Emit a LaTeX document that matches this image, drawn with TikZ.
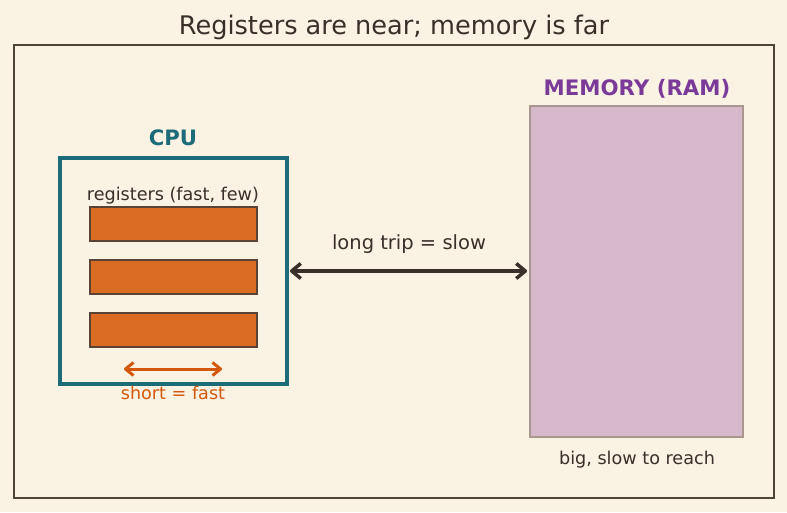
\documentclass[tikz,border=0pt]{standalone}
\usepackage{fontspec}
\setmainfont{DejaVu Sans}
\usetikzlibrary{arrows.meta}
\definecolor{bg}{HTML}{FAF2E3}
\definecolor{ink}{HTML}{3A2F29}
\definecolor{frame}{HTML}{4F4438}
\definecolor{teal}{HTML}{1B6B78}
\definecolor{regfill}{HTML}{D96B22}
\definecolor{regdraw}{HTML}{5A4334}
\definecolor{orng}{HTML}{D4580C}
\definecolor{memfill}{HTML}{D5B9CB}
\definecolor{memdraw}{HTML}{A8968F}
\definecolor{purp}{HTML}{7B3A98}
\tikzset{
  reg/.style={draw=regdraw, fill=regfill, line width=1.5pt},
  lbl/.style={text=ink, font=\fontsize{17.6}{20}\selectfont, inner sep=0pt},
}
\begin{document}
\begin{tikzpicture}[x=1pt,y=-1pt]
\fill[bg] (0,0) rectangle (787,512);
\useasboundingbox (0,0) rectangle (787,512);
\node[text=ink, font=\fontsize{25.6}{28}\selectfont, inner sep=0pt] (title) at (394,27.5) {Registers are near; memory is far};
\draw[frame, line width=1.3pt] (14,45) rectangle (774,498);
% CPU
\draw[teal, line width=3.5pt] (60,158) rectangle (287,384);
\coordinate (cpuR) at (287,271);
\node[text=teal, font=\bfseries\fontsize{21.2}{24}\selectfont, inner sep=0pt] (cpu) at (173,138) {CPU};
\node[lbl] (reglbl) at (173,195.5) {registers (fast, few)};
\draw[reg] (90,207) rectangle (257,241);
\draw[reg] (90,260) rectangle (257,294);
\draw[reg] (90,313) rectangle (257,347);
\coordinate (sa) at (124,369);
\coordinate (sb) at (222,369);
\draw[orng, line width=3pt, line join=round, {Straight Barb[length=8pt,width=13pt,line join=round]}-{Straight Barb[length=8pt,width=13pt,line join=round]}] (sa) -- (sb);
\node[text=orng, font=\fontsize{17.6}{20}\selectfont, inner sep=0pt] (short) at (173,392.5) {short = fast};
% memory
\draw[draw=memdraw, fill=memfill, line width=1.2pt] (530,106) rectangle (743,437);
\coordinate (memL) at (530,271);
\node[text=purp, font=\bfseries\fontsize{21.3}{24}\selectfont, inner sep=0pt] (mem) at (637,89) {MEMORY (RAM)};
\node[lbl] (big) at (637,459.5) {big, slow to reach};
% long arrow
\draw[ink, line width=3.5pt, shorten <=3pt, shorten >=3pt, {Straight Barb[length=9pt,width=15pt,line join=round]}-{Straight Barb[length=9pt,width=15pt,line join=round]}] (cpuR) -- (memL);
\node[lbl, font=\fontsize{19.5}{22}\selectfont] (long) at (409,244.5) {long trip = slow};
\end{tikzpicture}
\end{document}
